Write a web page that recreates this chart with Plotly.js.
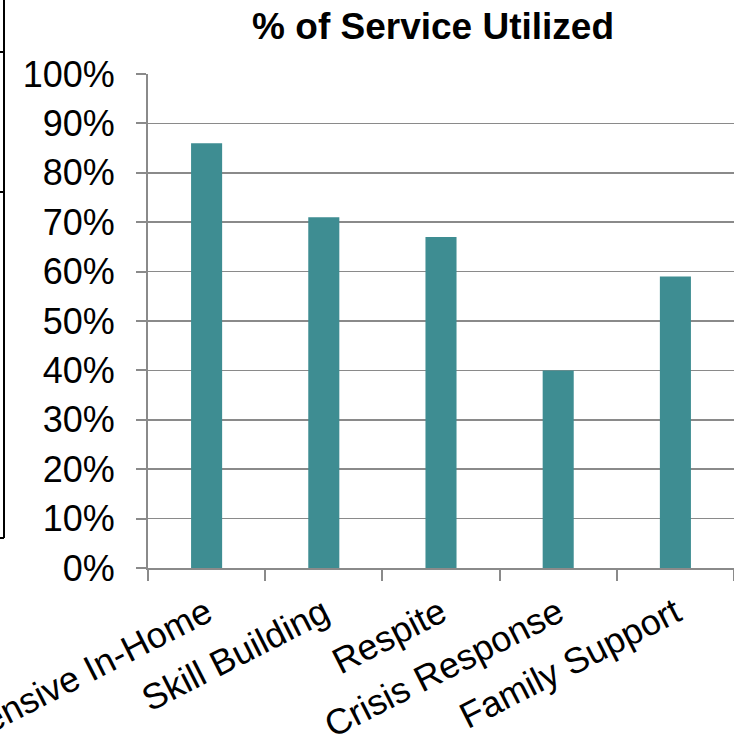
<!DOCTYPE html>
<html>
<head>
<meta charset="utf-8">
<script src="https://cdn.plot.ly/plotly-3.0.1.min.js"></script>
<style>
  html, body { margin: 0; padding: 0; background: #fff; }
  #chart { width: 734px; height: 755px; }
</style>
</head>
<body>
<div id="chart"></div>
<script>
const categories = ["Intensive In-Home", "Skill Building", "Respite", "Crisis Response", "Family Support"];
const utilized = [0.86, 0.71, 0.67, 0.40, 0.59];
const yTickValues = [0, 0.1, 0.2, 0.3, 0.4, 0.5, 0.6, 0.7, 0.8, 0.9, 1.0];
const yTickLabels = ["0%", "10%", "20%", "30%", "40%", "50%", "60%", "70%", "80%", "90%", "100%"];
const chartTitle = "% of Service Utilized";

const W = 734, H = 755;
const L = 148, R = 0, T = 74, B = 187;
const pw = W - L - R, ph = H - T - B;
const px = v => (v - L) / pw;
const py = v => (H - B - v) / ph;

// cropped slide-table border fragments on the left edge
const borderShapes = [
  {x0: 4, y0: 0, x1: 4, y1: 538},
  {x0: 0, y0: 52, x1: 4, y1: 52},
  {x0: 0, y0: 192, x1: 4, y1: 192},
  {x0: 0, y0: 538, x1: 4, y1: 538}
].map(s => ({
  type: 'line', xref: 'paper', yref: 'paper',
  x0: px(s.x0), x1: px(s.x1), y0: py(s.y0), y1: py(s.y1),
  line: {color: '#000', width: 2}
}));

const trace = {
  type: 'bar',
  x: categories,
  y: utilized,
  marker: {color: '#3e8d92'},
  hoverinfo: 'x+y'
};

const gridColor = '#8a8a8a';
const layout = {
  width: W, height: H,
  margin: {l: L, r: R, t: T, b: B, pad: 0},
  paper_bgcolor: '#fff',
  plot_bgcolor: '#fff',
  font: {family: '"Liberation Sans", Arial, sans-serif', color: '#000', size: 36},
  title: {
    text: '<b>' + chartTitle + '</b>',
    font: {family: '"Liberation Sans", Arial, sans-serif', size: 37, color: '#000'},
    x: 0.59, xanchor: 'center', xref: 'container',
    y: 1 - 26 / H, yanchor: 'middle', yref: 'container'
  },
  bargap: 0.735,
  showlegend: false,
  xaxis: {
    type: 'category',
    showline: true, linecolor: gridColor, linewidth: 2,
    ticks: 'outside', ticklen: 11, tickwidth: 2, tickcolor: gridColor,
    tickson: 'boundaries',
    tickangle: -27,
    ticklabelstandoff: 8,
    tickfont: {size: 36, color: '#000'},
    showgrid: false,
    zeroline: false
  },
  yaxis: {
    range: [0, 1],
    tickvals: yTickValues,
    ticktext: yTickLabels,
    showline: true, linecolor: gridColor, linewidth: 2,
    ticks: 'outside', ticklen: 10, tickwidth: 2, tickcolor: gridColor,
    ticklabelstandoff: 14,
    showgrid: true, gridcolor: gridColor, gridwidth: 1.6,
    zeroline: false,
    tickfont: {size: 36, color: '#000'}
  },
  shapes: borderShapes
};

Plotly.newPlot('chart', [trace], layout, {displayModeBar: false, staticPlot: true});
</script>
</body>
</html>
